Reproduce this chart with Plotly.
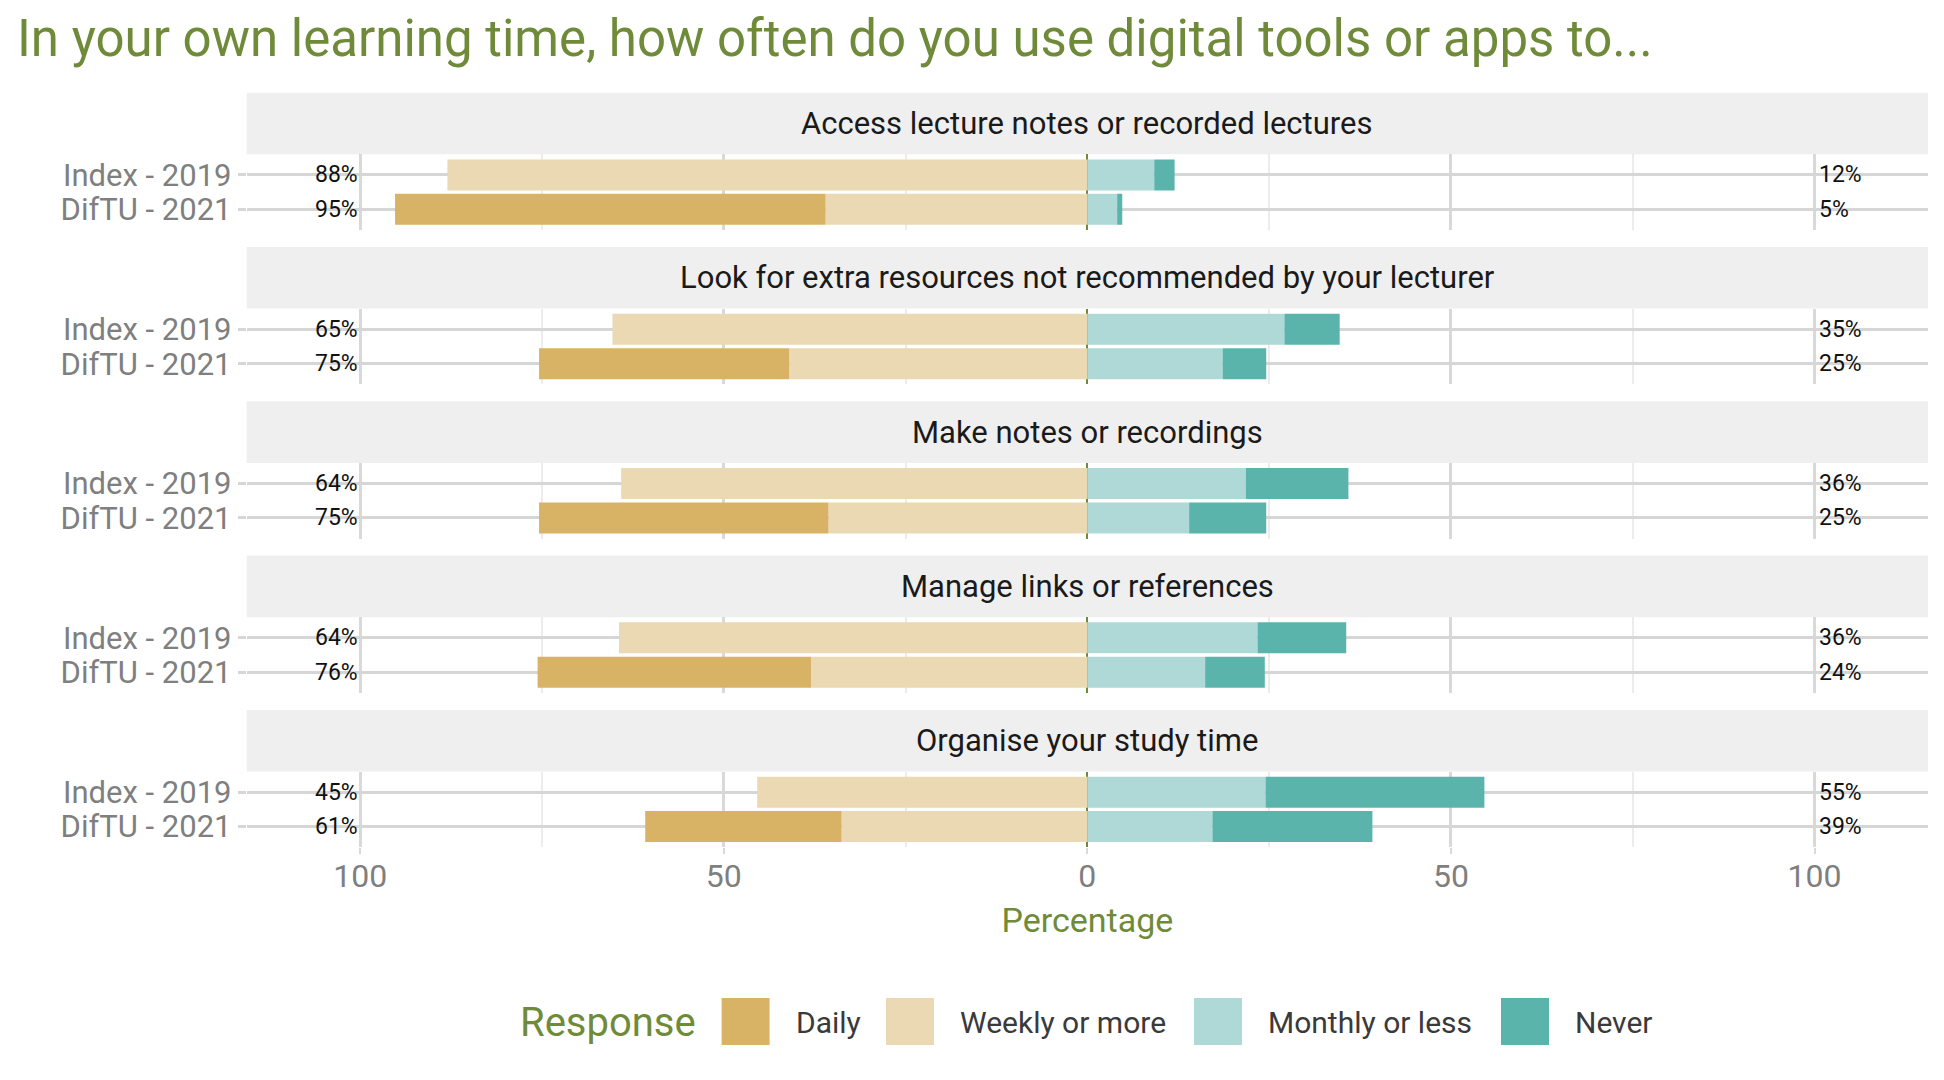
import plotly.graph_objects as go

# ---------------- data ----------------
questions = [
    "Access lecture notes or recorded lectures",
    "Look for extra resources not recommended by your lecturer",
    "Make notes or recordings",
    "Manage links or references",
    "Organise your study time",
]
groups = ["Index - 2019", "DifTU - 2021"]
responses = ["Daily", "Weekly or more", "Monthly or less", "Never"]

daily_2019 = [0.0, 0.0, 0.0, 0.0, 0.0]
weekly_2019 = [88.0, 65.3, 64.1, 64.4, 45.4]
monthly_2019 = [9.2, 27.1, 21.8, 23.4, 24.5]
never_2019 = [2.8, 7.6, 14.1, 12.2, 30.1]

daily_2021 = [59.2, 34.4, 39.8, 37.6, 27.0]
weekly_2021 = [36.0, 41.0, 35.6, 38.0, 33.8]
monthly_2021 = [4.1, 18.6, 14.0, 16.2, 17.2]
never_2021 = [0.7, 6.0, 10.6, 8.2, 22.0]

x_tickvals = [-100, -50, 0, 50, 100]
x_ticktext = ["100", "50", "0", "50", "100"]

# ---------------- style ----------------
FONT = "Roboto, Liberation Sans, sans-serif"
OLIVE = "#6f8b3a"
COLORS = {"Daily": "#d8b365", "Weekly or more": "#ead9b2",
          "Monthly or less": "#aed9d6", "Never": "#5ab4ac"}
W, H = 1944, 1080
X0, X1 = 246.7, 1928.0
PANEL_TOP0, PITCH, PANEL_H, STRIP_H = 154.3, 154.3, 75.7, 61.6
Y_POS = {"Index - 2019": 2, "DifTU - 2021": 1}

fig = go.Figure()
layout_axes = {}
annotations = []
shapes = []

for i, q in enumerate(questions):
    sfx = "" if i == 0 else str(i + 1)
    xa, ya = "x" + sfx, "y" + sfx
    vals = {
        "Daily": [daily_2019[i], daily_2021[i]],
        "Weekly or more": [weekly_2019[i], weekly_2021[i]],
        "Monthly or less": [monthly_2019[i], monthly_2021[i]],
        "Never": [never_2019[i], never_2021[i]],
    }
    ys = [Y_POS[g] for g in groups]
    # left side: weekly nearest zero, then daily; right: monthly then never
    for r, sign in [("Weekly or more", -1), ("Daily", -1),
                    ("Monthly or less", 1), ("Never", 1)]:
        fig.add_trace(go.Bar(
            x=[sign * v for v in vals[r]], y=ys, orientation="h",
            marker=dict(color=COLORS[r], line=dict(width=0)),
            name=r, showlegend=False, xaxis=xa, yaxis=ya,
            hovertemplate=r + ": %{x}<extra></extra>",
        ))
    for k, (g, y) in enumerate(zip(groups, ys)):
        left = vals["Daily"][k] + vals["Weekly or more"][k]
        right = vals["Monthly or less"][k] + vals["Never"][k]
        annotations.append(dict(x=-100, y=y, xref=xa, yref=ya, text=f"{round(left)}%",
                                showarrow=False, xanchor="right", yanchor="middle",
                                font=dict(family=FONT, size=23, color="#111111")))
        annotations.append(dict(x=100, y=y, xref=xa, yref=ya, text=f"{round(right)}%",
                                showarrow=False, xanchor="left", yanchor="middle", xshift=2,
                                font=dict(family=FONT, size=23, color="#111111")))

    top = PANEL_TOP0 + PITCH * i
    bot = top + PANEL_H
    last = i == len(questions) - 1
    layout_axes["xaxis" + sfx] = dict(
        domain=[X0 / W, X1 / W], range=[-115.6, 115.6], anchor=ya,
        tickvals=x_tickvals, ticktext=x_ticktext, showticklabels=last,
        ticks="outside" if last else "", ticklen=6, tickwidth=2, tickcolor="#d9d9d9",
        ticklabelstandoff=-6,
        tickfont=dict(family=FONT, size=32, color="#7f7f7f"),
        showgrid=True, gridcolor="#d9d9d9", gridwidth=2.5,
        minor=dict(tickvals=[-75, -25, 25, 75], showgrid=True,
                   gridcolor="#ececec", gridwidth=1.5),
        zeroline=True, zerolinecolor=OLIVE, zerolinewidth=2,
        showline=False, automargin=False, fixedrange=True,
        title=dict(text="Percentage" if last else "",
                   font=dict(family=FONT, size=34, color=OLIVE), standoff=14),
    )
    layout_axes["yaxis" + sfx] = dict(
        domain=[1 - bot / H, 1 - top / H], range=[0.4, 2.6], anchor=xa,
        tickvals=ys, ticktext=groups,
        ticks="outside", ticklen=8, tickwidth=3, tickcolor="#d6d6d6",
        tickfont=dict(family=FONT, size=31, color="#7f7f7f"),
        showgrid=True, gridcolor="#d6d6d6", gridwidth=3,
        zeroline=False, showline=False, automargin=False, fixedrange=True,
    )
    # facet strip
    shapes.append(dict(type="rect", xref="paper", yref="paper",
                       x0=X0 / W, x1=X1 / W, y0=1 - top / H, y1=1 - (top - STRIP_H) / H,
                       fillcolor="#efefef", line=dict(width=0), layer="below"))
    annotations.append(dict(x=(X0 + X1) / 2 / W, y=1 - (top - STRIP_H / 2) / H,
                            xref="paper", yref="paper", text=q, showarrow=False,
                            xanchor="center", yanchor="middle",
                            font=dict(family=FONT, size=31, color="#1a1a1a")))

# title
annotations.append(dict(x=15 / W, y=1 - 39 / H, xref="paper", yref="paper",
                        text="In your own learning time, how often do you use digital tools or apps to...",
                        showarrow=False, xanchor="left", yanchor="middle",
                        font=dict(family=FONT, size=51, color=OLIVE)))

# legend (manual, large keys)
LEG_Y0, LEG_Y1, LEG_YC = 998, 1045, 1022
annotations.append(dict(x=518 / W, y=1 - LEG_YC / H, xref="paper", yref="paper",
                        text="Response", showarrow=False, xanchor="left", yanchor="middle",
                        font=dict(family=FONT, size=40, color=OLIVE)))
key_x = [721.6, 886.0, 1194.0, 1501.0]
for r, kx in zip(responses, key_x):
    shapes.append(dict(type="rect", xref="paper", yref="paper",
                       x0=kx / W, x1=(kx + 48) / W, y0=1 - LEG_Y1 / H, y1=1 - LEG_Y0 / H,
                       fillcolor=COLORS[r], line=dict(width=0)))
    annotations.append(dict(x=(kx + 72) / W, y=1 - LEG_YC / H, xref="paper", yref="paper",
                            text=r, showarrow=False, xanchor="left", yanchor="middle",
                            font=dict(family=FONT, size=30, color="#3a3a3a")))

fig.update_layout(
    width=W, height=H, margin=dict(l=0, r=0, t=0, b=0),
    paper_bgcolor="white", plot_bgcolor="white",
    barmode="relative", bargap=0.1, showlegend=False,
    font=dict(family=FONT),
    annotations=annotations, shapes=shapes,
    **layout_axes,
)

fig.write_html("out.html")
